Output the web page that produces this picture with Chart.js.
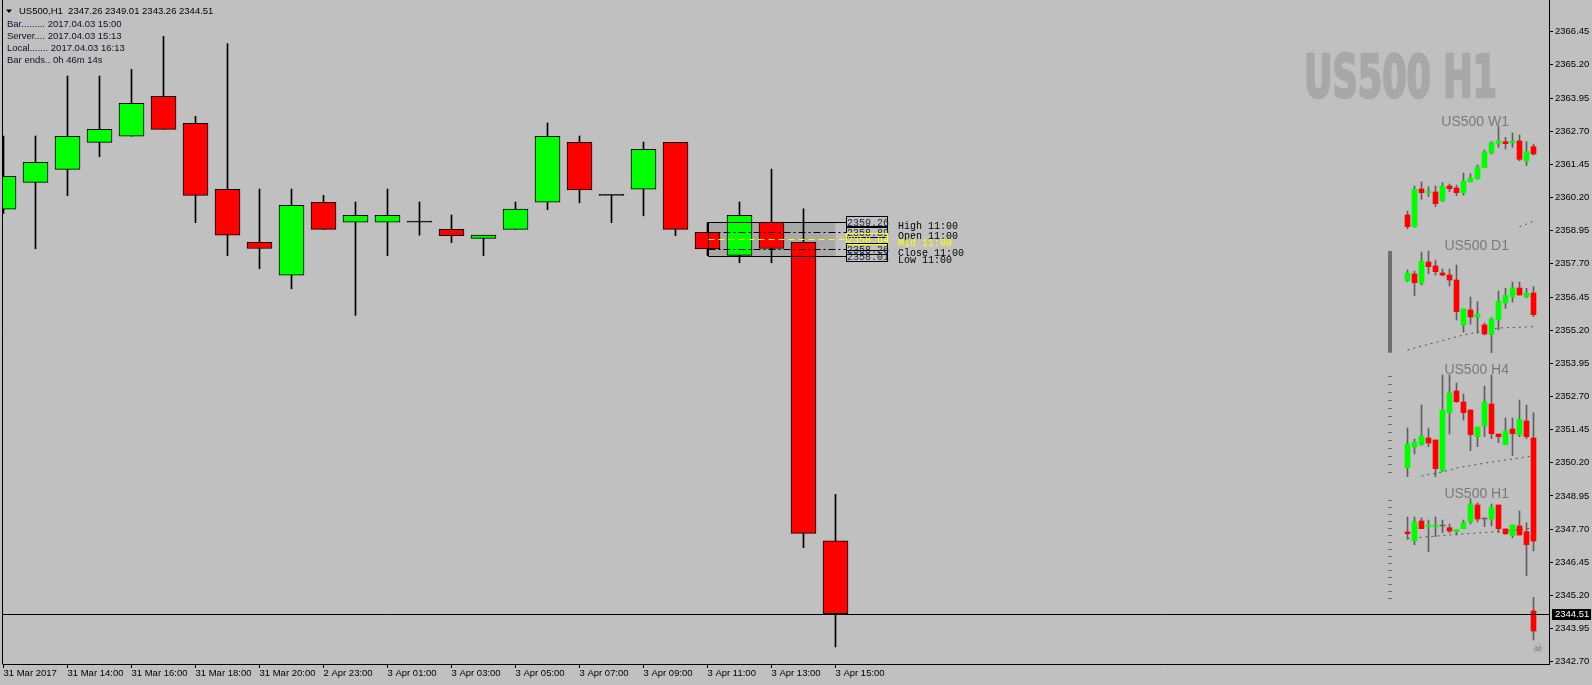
<!DOCTYPE html>
<html>
<head>
<meta charset="utf-8">
<script src="https://cdn.jsdelivr.net/npm/chart.js@4.4.1/dist/chart.umd.min.js"></script>
<style>
  html, body { margin: 0; padding: 0; background: #c0c0c0; overflow: hidden; }
  canvas { display: block; }
</style>
</head>
<body>
<canvas id="chart" width="1592" height="685"></canvas>
<script>
// US500 H1, 31 Mar 12:00 .. 3 Apr 15:00 (bar index 0..26)
const barIndex = [0,1,2,3,4,5,6,7,8,9,10,11,12,13,14,15,16,17,18,19,20,21,22,23,24,25,26];
const opens  = [2359.76,2360.77,2361.26,2362.28,2362.51,2364.01,2363.00,2360.51,2358.51,2357.27,2360.02,2359.27,2359.27,2359.27,2359.00,2358.66,2359.00,2360.02,2362.28,2360.28,2360.51,2362.28,2358.89,2358.02,2359.27,2358.51,2347.26];
const highs  = [2362.52,2362.52,2364.78,2364.78,2365.03,2366.27,2363.26,2366.00,2360.52,2360.52,2360.28,2360.03,2360.52,2360.03,2359.54,2358.78,2360.03,2363.01,2362.52,2360.28,2362.29,2362.28,2359.26,2360.03,2361.27,2359.77,2349.01];
const lows   = [2359.60,2358.27,2360.27,2361.74,2362.51,2362.77,2359.25,2358.01,2357.52,2356.76,2359.00,2355.76,2358.01,2358.78,2358.50,2358.01,2359.00,2359.74,2360.00,2359.25,2359.51,2358.76,2358.01,2357.74,2357.74,2347.00,2343.26];
const closes = [2361.00,2361.53,2362.51,2362.77,2363.75,2362.77,2360.28,2358.78,2358.28,2359.91,2359.00,2359.53,2359.53,2359.27,2358.76,2358.78,2359.76,2362.51,2360.49,2360.28,2362.02,2359.00,2358.26,2359.53,2358.28,2347.54,2344.51];

const xTickIndex  = [0,2,4,6,8,10,12,14,16,18,20,22,24,26];
const xTickLabels = ['31 Mar 2017','31 Mar 14:00','31 Mar 16:00','31 Mar 18:00','31 Mar 20:00','2 Apr 23:00','3 Apr 01:00','3 Apr 03:00','3 Apr 05:00','3 Apr 07:00','3 Apr 09:00','3 Apr 11:00','3 Apr 13:00','3 Apr 15:00'];
const priceTicks  = [2366.45,2365.20,2363.95,2362.70,2361.45,2360.20,2358.95,2357.70,2356.45,2355.20,2353.95,2352.70,2351.45,2350.20,2348.95,2347.70,2346.45,2345.20,2343.95,2342.70];

const lastPrice = 2344.51;
const levelBar = 22;          // the 11:00 bar whose levels are boxed
const levelTime = '11:00';
const symbolLine = 'US500,H1  2347.26 2349.01 2343.26 2344.51';
const infoLines = ['Bar......... 2017.04.03 15:00', 'Server.... 2017.04.03 15:13', 'Local....... 2017.04.03 16:13', 'Bar ends.. 0h 46m 14s'];
const watermark = 'US500 H1';

// mini panels on the right (19 bars each)
const miniIndex = [0,1,2,3,4,5,6,7,8,9,10,11,12,13,14,15,16,17,18];

const w1Open  = [2311,2299.3,2337,2333.3,2334,2325.3,2340,2338,2333.3,2344.3,2347.3,2358.3,2373.3,2382.7,2384.3,2383.3,2385,2365,2379.3];
const w1High  = [2315,2340,2344,2339.3,2340,2343.3,2342,2341,2353,2352.3,2361,2376,2384.3,2399.3,2388.7,2393,2391,2384.3,2382];
const w1Low   = [2297.3,2298.7,2326.7,2329.3,2319.3,2324.3,2334.3,2330.3,2330.7,2344,2346.7,2358.3,2372,2378.7,2377,2378.7,2365.3,2360.3,2371];
const w1Close = [2299.3,2336.7,2333.3,2334.3,2322.3,2340,2337.3,2333.3,2345,2348,2359,2374,2383,2385,2382.3,2385,2366.7,2374.3,2372];
const w1MaIdx = [16,17,18];
const w1Ma    = [2299.3,2302,2305];

const d1Open  = [2369.3,2376,2367,2388,2384,2377,2375,2370,2325,2340,2333,2325,2315.7,2330.3,2347,2353.3,2362,2353.3,2357];
const d1High  = [2380,2379,2398,2399,2390,2381,2381,2385,2341,2353,2348.3,2327,2332.3,2359,2361.7,2368,2368,2361.7,2363.3];
const d1Low   = [2368.3,2354.3,2365,2376.3,2375,2374,2364,2330,2317.7,2325.7,2316.7,2315,2297.3,2320,2341.7,2348,2355,2352.3,2333.3];
const d1Close = [2377,2367.3,2389,2383.3,2378.3,2375,2370,2338.3,2341,2333,2336,2316,2331,2348.7,2354.7,2362,2355,2356.7,2335.3];
const d1MaIdx = [0,8,13,18];
const d1Ma    = [2300,2315,2322,2323.3];

const h4Open  = [2332.3,2353,2355.3,2362,2360,2329.3,2387.3,2409,2398,2390,2363.3,2374.3,2396,2366,2355.3,2371,2365.3,2379,2362];
const h4High  = [2372,2361,2395,2372,2360,2425,2425,2417,2406,2390,2373,2414,2425,2366,2382,2382,2400,2395,2387.3];
const h4Low   = [2323.3,2346,2354.7,2353.3,2323.3,2328.3,2366,2397.3,2380,2349.3,2353.3,2363.3,2361.3,2357.3,2355.3,2344.3,2363.3,2361.3,2249];
const h4Close = [2356,2358,2364,2357,2331.3,2390,2407,2398.3,2387.3,2365.3,2373,2398,2366.3,2363.3,2369,2366.3,2380.7,2363.3,2259];
const h4MaIdx = [2,5,7,12,18];
const h4Ma    = [2324,2328,2332,2338,2344];

const h1Open  = [2318,2309.3,2329,2323.3,2323.3,2324,2322.3,2318.3,2321.3,2328.3,2345,2331,2331,2345,2321,2314.3,2324,2318.3,2239];
const h1High  = [2333,2333,2332,2330,2333,2330,2326,2320.3,2330,2351.3,2347,2331,2346,2345,2321,2325,2339,2327.3,2252.7];
const h1Low   = [2310.7,2305.3,2321.3,2298.3,2313.3,2317.3,2317.3,2315,2321.3,2326,2328,2323.3,2324,2317.3,2315.3,2312.3,2315,2274.3,2210];
const h1Close = [2316.3,2328,2321.3,2325,2325,2324,2319,2320.3,2327.3,2346,2331,2331,2343,2321.3,2316.3,2325,2315,2305.3,2219];
const h1MaIdx = [0,5,10,15,18];
const h1Ma    = [2311.5,2314.5,2317,2319.5,2322];

const panels = [
  {name: 'US500 W1', o: w1Open, h: w1High, l: w1Low, c: w1Close, maIdx: w1MaIdx, ma: w1Ma, yId: 'yW1', top: 2526, labelY: 126, marks: null},
  {name: 'US500 D1', o: d1Open, h: d1High, l: d1Low, c: d1Close, maIdx: d1MaIdx, ma: d1Ma, yId: 'yD1', top: 2650, labelY: 249.5, marks: 'bar'},
  {name: 'US500 H4', o: h4Open, h: h4High, l: h4Low, c: h4Close, maIdx: h4MaIdx, ma: h4Ma, yId: 'yH4', top: 2800, labelY: 373.5, marks: {step: 8, count: 13}},
  {name: 'US500 H1', o: h1Open, h: h1High, l: h1Low, c: h1Close, maIdx: h1MaIdx, ma: h1Ma, yId: 'yH1', top: 2850, labelY: 497.5, marks: {step: 7, count: 15}}
];

const UP = '#00ff00', DOWN = '#ff0000';
const PLOT_H = 664;
const crisp = v => Math.round(v) + 0.5;

function candleSets(idx, o, h, l, c, xId, yId, opt) {
  const colors = idx.map((k, j) => c[j] > o[j] ? UP : (c[j] < o[j] ? DOWN : opt.doji));
  return [
    {type: 'bar', data: idx.map((k, j) => ({x: k, y: [o[j], c[j]]})), xAxisID: xId, yAxisID: yId,
     backgroundColor: colors, borderColor: '#000', borderWidth: opt.border, borderSkipped: false,
     barThickness: opt.body, minBarLength: 1, grouped: false, order: 0},
    {type: 'bar', data: idx.map((k, j) => ({x: k, y: [l[j], h[j]]})), xAxisID: xId, yAxisID: yId,
     backgroundColor: opt.wick, borderWidth: 0, barThickness: 1, grouped: false, order: 1}
  ];
}

const datasets = candleSets(barIndex, opens, highs, lows, closes, 'x', 'y', {body: 25, border: 1, wick: '#000', doji: '#000'});
panels.forEach(p => {
  datasets.push(...candleSets(miniIndex, p.o, p.h, p.l, p.c, 'xm', p.yId, {body: 5, border: 0, wick: '#5f5f5f', doji: '#606060'}));
  datasets.push({type: 'line', data: p.maIdx.map((k, j) => ({x: k, y: p.ma[j]})), xAxisID: 'xm', yAxisID: p.yId,
    borderColor: '#505050', borderWidth: 1, borderDash: [2, 4], pointRadius: 0, fill: false, order: 2});
});

const scales = {
  x: {
    type: 'linear', position: 'bottom', min: -0.015625, max: 48.296875, offset: false, bounds: 'data',
    grid: {drawOnChartArea: false, drawTicks: true, tickLength: 4, color: '#000', tickColor: '#000', offset: false},
    border: {display: true, color: '#000', width: 1},
    ticks: {autoSkip: false, maxRotation: 0, minRotation: 0, align: 'start', padding: 0, color: '#000',
            callback: (v, i) => xTickLabels[i]},
    afterBuildTicks: s => { s.ticks = xTickIndex.map(v => ({value: v})); },
    afterFit: s => { s.height = 21; s.paddingLeft = 0; s.paddingRight = 0; }
  },
  y: {
    type: 'linear', position: 'right', min: 2342.617, max: 2367.645, bounds: 'data', beginAtZero: false,
    grid: {drawOnChartArea: false, drawTicks: true, tickLength: 4, color: '#000', tickColor: '#000'},
    border: {display: true, color: '#000', width: 1},
    ticks: {padding: 2, color: '#000', callback: v => v.toFixed(2)},
    afterBuildTicks: s => { s.ticks = priceTicks.map(v => ({value: v})); },
    afterFit: s => { s.width = 43; s.paddingTop = 0; s.paddingBottom = 0; }
  },
  xm: {type: 'linear', display: false, min: -200.642857, max: 20.214286, offset: false, bounds: 'data'}
};
panels.forEach(p => {
  scales[p.yId] = {type: 'linear', display: false, min: p.top - PLOT_H, max: p.top, bounds: 'data', beginAtZero: false};
});

const overlay = {
  id: 'overlay',
  beforeDatasetsDraw(chart) {
    const {ctx} = chart;
    const x = chart.scales.x, y = chart.scales.y;
    ctx.save();
    // big symbol watermark, heavy condensed face
    ctx.fillStyle = '#a8a8a8';
    ctx.strokeStyle = '#a8a8a8';
    ctx.lineWidth = 2.5;
    ctx.lineJoin = 'round';
    ctx.font = 'bold 59px "Liberation Sans Narrow", "DejaVu Sans Condensed", sans-serif';
    ctx.textAlign = 'left';
    ctx.textBaseline = 'alphabetic';
    ctx.fillText(watermark, 1304, 97, 193);
    ctx.strokeText(watermark, 1304, 97, 193);

    // grey box of the 11:00 bar range
    const k = barIndex.indexOf(levelBar);
    const x0 = crisp(x.getPixelForValue(levelBar));
    const x1 = x.getPixelForValue(barIndex[barIndex.length - 1]);
    const yH = crisp(y.getPixelForValue(highs[k])), yL = crisp(y.getPixelForValue(lows[k]));
    ctx.fillStyle = '#a9a9a9';
    ctx.fillRect(x0, yH, x1 - x0, yL - yH);
    ctx.restore();
  },
  afterDatasetsDraw(chart) {
    const {ctx, chartArea: a} = chart;
    const x = chart.scales.x, y = chart.scales.y;
    ctx.save();
    ctx.lineWidth = 1;

    // 11:00 levels
    const k = barIndex.indexOf(levelBar);
    const x0 = crisp(x.getPixelForValue(levelBar));
    const xEnd = Math.round(x.getPixelForValue(barIndex[barIndex.length - 1])) + 11;
    const levels = [
      {name: 'High',  v: highs[k],  dash: [],           color: '#000'},
      {name: 'Open',  v: opens[k],  dash: [7, 3, 2, 3], color: '#000'},
      {name: 'Mid',   v: (highs[k] + lows[k]) / 2, dash: [6, 4], color: '#ffff00'},
      {name: 'Close', v: closes[k], dash: [7, 3, 2, 3], color: '#000'},
      {name: 'Low',   v: lows[k],   dash: [],           color: '#000'}
    ];
    ctx.strokeStyle = '#000';
    ctx.beginPath();
    ctx.moveTo(x0, crisp(y.getPixelForValue(highs[k])));
    ctx.lineTo(x0, crisp(y.getPixelForValue(lows[k])));
    ctx.stroke();
    levels.forEach(lv => {
      const py = crisp(y.getPixelForValue(lv.v));
      ctx.setLineDash(lv.dash);
      ctx.strokeStyle = lv.color;
      ctx.beginPath();
      ctx.moveTo(x0, py);
      ctx.lineTo(xEnd, py);
      ctx.stroke();
    });
    ctx.setLineDash([]);
    ctx.font = '10px "Liberation Mono", "DejaVu Sans Mono", monospace';
    ctx.textAlign = 'left';
    ctx.textBaseline = 'alphabetic';
    levels.forEach(lv => {
      const py = y.getPixelForValue(lv.v);
      const top = Math.round(py) - 6;
      const mid = lv.color !== '#000';
      ctx.strokeStyle = mid ? lv.color : '#000';
      ctx.strokeRect(xEnd + 0.5, top + 0.5, 41, 11);
      ctx.fillStyle = mid ? lv.color : '#1a2440';
      ctx.fillText(lv.v.toFixed(2), xEnd + 1, top + 9.5);
      ctx.fillStyle = lv.color;
      ctx.fillText(lv.name + ' ' + levelTime, xEnd + 52, py + 7);
    });

    // current price line
    const pc = crisp(y.getPixelForValue(lastPrice));
    ctx.strokeStyle = '#000';
    ctx.beginPath();
    ctx.moveTo(a.left, pc);
    ctx.lineTo(a.right, pc);
    ctx.stroke();

    // mini panel titles and side marks
    const xm = chart.scales.xm;
    const markX = Math.round(xm.getPixelForValue(miniIndex[0])) - 19;
    ctx.font = '14px "Liberation Sans", Arial, sans-serif';
    ctx.textAlign = 'right';
    panels.forEach(p => {
      ctx.fillStyle = '#7a7a7a';
      ctx.fillText(p.name, 1509, p.labelY);
      const ys = chart.scales[p.yId];
      const hi = Math.max(...p.h), lo = Math.min(...p.l);
      if (p.marks === 'bar') {
        const t = ys.getPixelForValue(hi), b = ys.getPixelForValue(lo);
        ctx.fillStyle = '#6e6e6e';
        ctx.fillRect(markX, t, 4, b - t);
      } else if (p.marks) {
        ctx.strokeStyle = '#707070';
        for (let i = 0; i < p.marks.count; i++) {
          const py = crisp(ys.getPixelForValue(hi - 1 - i * p.marks.step));
          ctx.beginPath();
          ctx.moveTo(markX, py);
          ctx.lineTo(markX + 4, py);
          ctx.stroke();
        }
      }
    });

    // info text, top left
    ctx.textAlign = 'left';
    ctx.fillStyle = '#000';
    ctx.beginPath();
    ctx.moveTo(6, 9.5); ctx.lineTo(12, 9.5); ctx.lineTo(9, 13); ctx.closePath();
    ctx.fill();
    ctx.font = '9.5px "Liberation Sans", Arial, sans-serif';
    ctx.fillText(symbolLine, 19, 14);
    ctx.fillStyle = '#101028';
    infoLines.forEach((t, i) => ctx.fillText(t, 7, 27 + i * 12.1));
    ctx.restore();
  },
  afterDraw(chart) {
    const {ctx, chartArea: a} = chart;
    const y = chart.scales.y;
    ctx.save();
    ctx.strokeStyle = '#000';
    ctx.lineWidth = 1;
    ctx.beginPath();
    ctx.moveTo(2.5, 0);
    ctx.lineTo(2.5, a.bottom + 0.5);
    ctx.stroke();

    const pc = Math.round(y.getPixelForValue(lastPrice));
    ctx.fillStyle = '#000';
    ctx.fillRect(a.right + 3, pc - 5, 39, 11);
    ctx.fillStyle = '#fff';
    ctx.font = '9.5px "Liberation Sans", Arial, sans-serif';
    ctx.textAlign = 'left';
    ctx.textBaseline = 'middle';
    ctx.fillText(lastPrice.toFixed(2), a.right + 6, pc + 0.5);

    ctx.fillStyle = '#808080';
    ctx.font = '12px "DejaVu Sans", sans-serif';
    ctx.textAlign = 'center';
    ctx.textBaseline = 'middle';
    ctx.fillText('\u2620', 1538, 649);
    ctx.restore();
  }
};

Chart.defaults.font.family = '"Liberation Sans", Arial, sans-serif';
Chart.defaults.font.size = 9.5;
Chart.defaults.color = '#000';

new Chart(document.getElementById('chart'), {
  type: 'bar',
  data: {datasets},
  options: {
    responsive: false,
    animation: false,
    events: [],
    devicePixelRatio: 1,
    layout: {padding: {left: 3, top: 0, right: 0, bottom: 0}},
    plugins: {legend: {display: false}, tooltip: {enabled: false}, title: {display: false}},
    scales
  },
  plugins: [overlay]
});
</script>
</body>
</html>
